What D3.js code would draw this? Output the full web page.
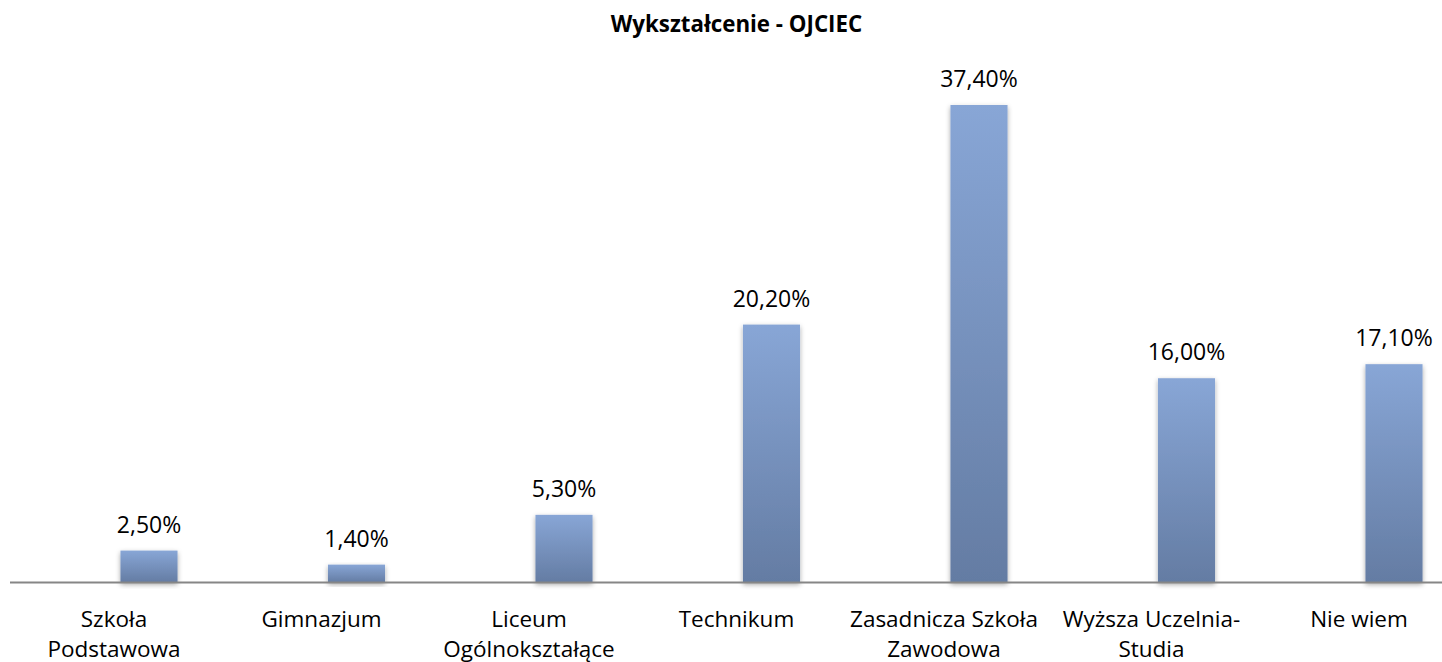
<!DOCTYPE html>
<html>
<head>
<meta charset="utf-8">
<script src="https://cdn.jsdelivr.net/npm/d3@7/dist/d3.min.js"></script>
<style>
html,body{margin:0;padding:0;background:#fff;}
svg{display:block;}
text{font-family:"Open Sans",sans-serif;fill:#000;}
</style>
</head>
<body>
<svg id="chart" width="1442" height="662"></svg>
<script>
const title = "Wykształcenie - OJCIEC";
const categories = ["Szkoła Podstawowa","Gimnazjum","Liceum Ogólnokształące","Technikum","Zasadnicza Szkoła Zawodowa","Wyższa Uczelnia- Studia","Nie wiem"];
const categoryLines = [["Szkoła","Podstawowa"],["Gimnazjum"],["Liceum","Ogólnokształące"],["Technikum"],["Zasadnicza Szkoła","Zawodowa"],["Wyższa Uczelnia-","Studia"],["Nie wiem"]];
const values = [2.5, 1.4, 5.3, 20.2, 37.4, 16.0, 17.1];
const valueLabels = ["2,50%","1,40%","5,30%","20,20%","37,40%","16,00%","17,10%"];

const svg = d3.select("#chart");
const W = 1442, H = 662;
const baseY = 582.5;

const defs = svg.append("defs");
const grad = defs.append("linearGradient").attr("id","barGrad")
  .attr("x1",0).attr("y1",0).attr("x2",0).attr("y2",1);
grad.append("stop").attr("offset","0%").attr("stop-color","#88a6d6");
grad.append("stop").attr("offset","100%").attr("stop-color","#647ca3");
const f = defs.append("filter").attr("id","shadow")
  .attr("x","-30%").attr("y","-10%").attr("width","160%").attr("height","130%");
f.append("feDropShadow").attr("dx",0).attr("dy",2).attr("stdDeviation",2.5)
  .attr("flood-color","#000").attr("flood-opacity",0.35);

const x = d3.scaleBand().domain(categories).range([45.25, 1497.75]).paddingInner(0.725).paddingOuter(0.3625);
const y = d3.scaleLinear().domain([0, 40]).range([baseY, baseY - 510.7]);
const labelShift = -35;

svg.append("text").attr("x", 736.5).attr("y", 32)
  .attr("text-anchor","middle").attr("font-weight","bold").attr("font-size", 22.3)
  .text(title);

svg.selectAll("rect.bar").data(values).join("rect")
  .attr("class","bar")
  .attr("x",(d,i)=>x(categories[i]))
  .attr("width", x.bandwidth())
  .attr("y", d=>y(d))
  .attr("height", d=>y(0)-y(d))
  .attr("fill","url(#barGrad)")
  .attr("filter","url(#shadow)");

// axis line
svg.append("line").attr("x1",10).attr("x2",W).attr("y1",baseY).attr("y2",baseY)
  .attr("stroke","#868686").attr("stroke-width",2);

svg.selectAll("text.val").data(values).join("text")
  .attr("class","val")
  .attr("x",(d,i)=>x(categories[i]) + x.bandwidth()/2)
  .attr("y", d=>y(d) - 18)
  .attr("text-anchor","middle").attr("font-size",23)
  .text((d,i)=>valueLabels[i]);

const cl = svg.selectAll("text.cat").data(categories).join("text")
  .attr("class","cat")
  .attr("x",(d)=>x(d) + x.bandwidth()/2 + labelShift)
  .attr("y", 627)
  .attr("text-anchor","middle").attr("font-size",22.5);
cl.each(function(d,i){
  const t = d3.select(this);
  categoryLines[i].forEach((ln,j)=>{
    t.append("tspan").attr("x", x(d) + x.bandwidth()/2 + labelShift).attr("dy", j===0?0:30).text(ln);
  });
});
</script>
</body>
</html>
